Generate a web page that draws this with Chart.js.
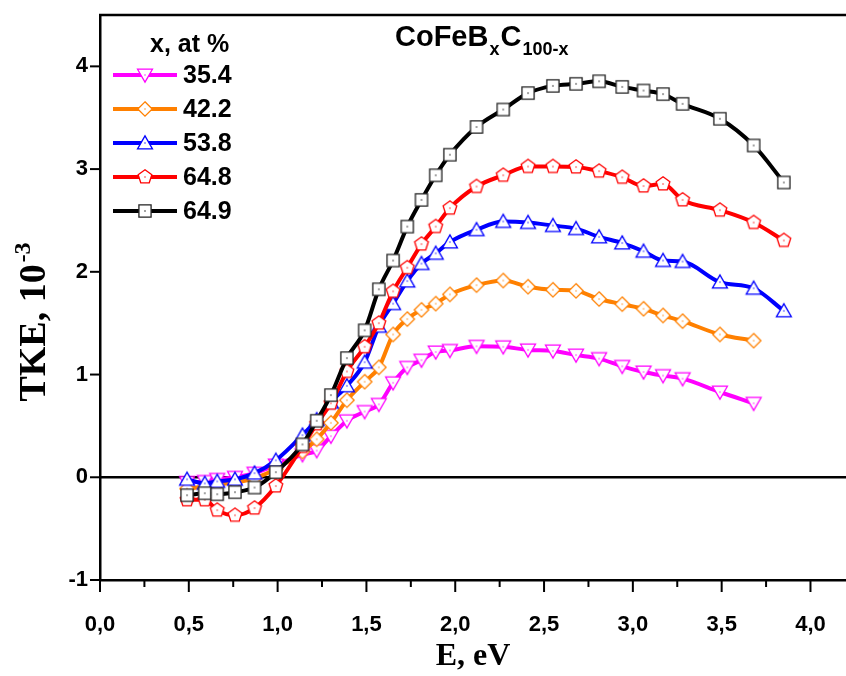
<!DOCTYPE html>
<html>
<head>
<meta charset="utf-8">
<script src="https://cdn.jsdelivr.net/npm/chart.js@4.4.1/dist/chart.umd.min.js"></script>
<style>
html,body{margin:0;padding:0;background:#fff;}
#wrap{width:846px;height:676px;}
</style>
</head>
<body>
<div id="wrap"><canvas id="c" width="846" height="676"></canvas></div>
<script>
// ---- data ----
const E = [0.49,0.59,0.66,0.76,0.87,0.99,1.14,1.22,1.30,1.39,1.49,1.57,1.65,1.73,1.81,1.89,1.97,2.12,2.27,2.41,2.55,2.68,2.81,2.94,3.06,3.17,3.28,3.49,3.68,3.85];
const seriesLabels = ['35.4','42.2','53.8','64.8','64.9'];
const tke354 = [-0.05,-0.04,-0.02,0.0,0.04,0.12,0.22,0.26,0.40,0.55,0.64,0.71,0.92,1.07,1.14,1.22,1.235,1.275,1.27,1.24,1.23,1.19,1.155,1.08,1.025,0.99,0.96,0.83,0.72];
const tke422 = [-0.11,-0.09,-0.07,-0.05,-0.01,0.08,0.25,0.37,0.53,0.75,0.93,1.07,1.39,1.54,1.63,1.69,1.78,1.87,1.915,1.855,1.825,1.815,1.735,1.685,1.64,1.575,1.52,1.39,1.33];
const tke538 = [-0.02,-0.06,-0.04,-0.02,0.04,0.165,0.41,0.56,0.73,0.89,1.12,1.47,1.69,1.91,2.08,2.18,2.29,2.41,2.49,2.48,2.45,2.42,2.34,2.28,2.20,2.11,2.10,1.90,1.84,1.62];
const tke648 = [-0.22,-0.22,-0.32,-0.37,-0.30,-0.085,0.30,0.52,0.72,1.03,1.27,1.50,1.81,2.04,2.27,2.44,2.62,2.83,2.94,3.025,3.025,3.02,2.98,2.92,2.835,2.855,2.70,2.60,2.48,2.305];
const tke649 = [-0.175,-0.155,-0.165,-0.145,-0.10,0.05,0.32,0.55,0.80,1.16,1.43,1.83,2.11,2.44,2.70,2.94,3.14,3.41,3.58,3.74,3.81,3.83,3.855,3.80,3.765,3.73,3.635,3.49,3.23,2.87];
const xTicks = [0,0.5,1,1.5,2,2.5,3,3.5,4];
const yTicks = [-1,0,1,2,3,4];

// ---- marker images ----
function makeMarker(shape, color){
  const s = 22, c = document.createElement('canvas');
  c.width = s; c.height = s;
  const g = c.getContext('2d');
  g.translate(s/2, s/2);
  g.beginPath();
  function poly(n, r, start){
    for(let i=0;i<n;i++){
      const a = start + i*2*Math.PI/n;
      const px = r*Math.cos(a), py = r*Math.sin(a);
      if(i===0) g.moveTo(px,py); else g.lineTo(px,py);
    }
    g.closePath();
  }
  if(shape==='tri') { g.translate(0,1.5); poly(3, 8.6, -Math.PI/2); }
  else if(shape==='tridown') { g.translate(0,-1.5); poly(3, 8.6, Math.PI/2); }
  else if(shape==='diamond') poly(4, 7.2, -Math.PI/2);
  else if(shape==='pent') poly(5, 7.2, -Math.PI/2);
  else if(shape==='square') poly(4, 8.6, -Math.PI/4);
  g.fillStyle = '#fff';
  g.fill();
  g.lineWidth = 1.3;
  g.strokeStyle = shape==='square' ? '#222' : color;
  g.stroke();
  g.setTransform(1,0,0,1,0,0);
  g.fillStyle = color;
  g.fillRect(s/2-0.6, s/2-0.6, 1.2, 1.2);
  return c;
}

const styles = [
  {color:'#ff00ff', shape:'tridown', data:tke354},
  {color:'#ff8000', shape:'diamond', data:tke422},
  {color:'#0000ff', shape:'tri', data:tke538},
  {color:'#ff0000', shape:'pent', data:tke648},
  {color:'#000000', shape:'square', data:tke649}
];

const datasets = styles.map((st, i) => {
  const img = makeMarker(st.shape, st.color);
  st.img = img;
  return {
    label: seriesLabels[i],
    data: st.data.map((v, k) => ({x: E[k], y: v})),
    borderColor: st.color,
    backgroundColor: '#fff',
    borderWidth: 4,
    pointStyle: img,
    pointRadius: 7,
    cubicInterpolationMode: 'monotone',
    order: 5 - i
  };
});

const decorPlugin = {
  id: 'decor',
  beforeDatasetsDraw(chart){
    const {ctx, chartArea:a, scales:{x, y}} = chart;
    ctx.save();
    const y0 = y.getPixelForValue(0);
    ctx.strokeStyle = '#000'; ctx.lineWidth = 2.5;
    ctx.beginPath(); ctx.moveTo(a.left, y0); ctx.lineTo(a.right, y0); ctx.stroke();
    ctx.restore();
  },
  afterDraw(chart){
    const {ctx, chartArea:a, scales:{x, y}} = chart;
    ctx.save();
    ctx.strokeStyle = '#000';
    ctx.lineWidth = 2.5;
    ctx.beginPath(); ctx.moveTo(a.left-1, a.top); ctx.lineTo(a.right, a.top); ctx.stroke();
    ctx.lineWidth = 2;
    for(let v=0; v<=4.2001; v+=0.25){
      const px = x.getPixelForValue(v);
      const major = Math.abs(v*2 - Math.round(v*2)) < 1e-6;
      ctx.beginPath(); ctx.moveTo(px, a.bottom); ctx.lineTo(px, a.bottom + (major?12:7)); ctx.stroke();
    }
    yTicks.forEach(v => {
      const py = y.getPixelForValue(v);
      ctx.beginPath(); ctx.moveTo(a.left, py); ctx.lineTo(a.left-10, py); ctx.stroke();
    });
    // title
    ctx.fillStyle = '#000';
    ctx.textBaseline = 'alphabetic';
    ctx.textAlign = 'left';
    let tx = 395, ty = 46;
    ctx.font = 'bold 29px "Liberation Sans", Arial, sans-serif';
    ctx.fillText('CoFeB', tx, ty); tx += ctx.measureText('CoFeB').width + 1;
    ctx.font = 'bold 18px "Liberation Sans", Arial, sans-serif';
    ctx.fillText('x', tx, ty + 9); tx += ctx.measureText('x').width + 1;
    ctx.font = 'bold 29px "Liberation Sans", Arial, sans-serif';
    ctx.fillText('C', tx, ty); tx += ctx.measureText('C').width + 1;
    ctx.font = 'bold 18px "Liberation Sans", Arial, sans-serif';
    ctx.fillText('100-x', tx, ty + 9);
    // legend
    ctx.font = 'bold 25px "Liberation Sans", Arial, sans-serif';
    ctx.fillText('x, at %', 150, 52);
    const ly = [75, 109, 143, 177, 211];
    chart.data.datasets.forEach((ds, i) => {
      const yy = ly[i];
      ctx.strokeStyle = ds.borderColor; ctx.lineWidth = 4;
      ctx.beginPath(); ctx.moveTo(113, yy); ctx.lineTo(177, yy); ctx.stroke();
      const img = styles[i].img;
      ctx.drawImage(img, 145 - img.width/2, yy - img.height/2);
      ctx.fillStyle = '#000';
      ctx.textBaseline = 'middle';
      ctx.fillText(ds.label, 183, yy + 1);
    });
    // y axis title (rotated, with superscript)
    ctx.save();
    ctx.translate(45, 322);
    ctx.rotate(-Math.PI/2);
    ctx.textBaseline = 'alphabetic';
    const big = 'bold 38px "Liberation Serif", "Times New Roman", serif';
    const small = 'bold 24px "Liberation Serif", "Times New Roman", serif';
    const t1 = 'TKE, 10';
    ctx.font = small;
    const w2 = ctx.measureText('-3').width;
    ctx.font = big;
    const w1 = ctx.measureText(t1).width;
    let sx = -(w1 + w2 + 2)/2;
    ctx.fillText(t1, sx, 0);
    ctx.font = small;
    ctx.fillText('-3', sx + w1 + 2, -15);
    ctx.restore();
    ctx.restore();
  }
};

new Chart(document.getElementById('c'), {
  type: 'line',
  data: { datasets },
  options: {
    responsive: false,
    animation: false,
    layout: { autoPadding: false, padding: { top: 15, right: 0, left: 0, bottom: 0 } },
    plugins: { legend: { display: false }, tooltip: { enabled: false }, title: { display: false } },
    scales: {
      x: {
        type: 'linear', min: 0, max: 4.2,
        grid: { display: false, drawTicks: false },
        border: { display: true, color: '#000', width: 2.5 },
        afterBuildTicks: s => { s.ticks = xTicks.map(v => ({value: v})); },
        afterFit: s => { s.height = 96; s.paddingLeft = 0; s.paddingRight = 0; },
        ticks: {
          color: '#000', padding: 32, maxRotation: 0,
          font: { family: '"Liberation Sans Narrow", "Liberation Sans", Arial, sans-serif', weight: 'bold', size: 22 },
          callback: v => v.toFixed(1).replace('.', ',')
        },
        title: {
          display: true, text: 'E, eV', color: '#000', padding: { top: 4, bottom: 0 },
          font: { family: '"Liberation Serif", "Times New Roman", serif', weight: 'bold', size: 32 }
        }
      },
      y: {
        type: 'linear', min: -1, max: 4.5,
        grid: { display: false, drawTicks: false },
        border: { display: true, color: '#000', width: 2.5 },
        afterBuildTicks: s => { s.ticks = yTicks.map(v => ({value: v})); },
        afterFit: s => { s.width = 100; s.paddingTop = 0; s.paddingBottom = 0; },
        ticks: {
          color: '#000', padding: 12,
          font: { family: '"Liberation Sans", Arial, sans-serif', weight: 'bold', size: 22 },
          callback: v => String(v)
        }
      }
    }
  },
  plugins: [decorPlugin]
});
</script>
</body>
</html>
